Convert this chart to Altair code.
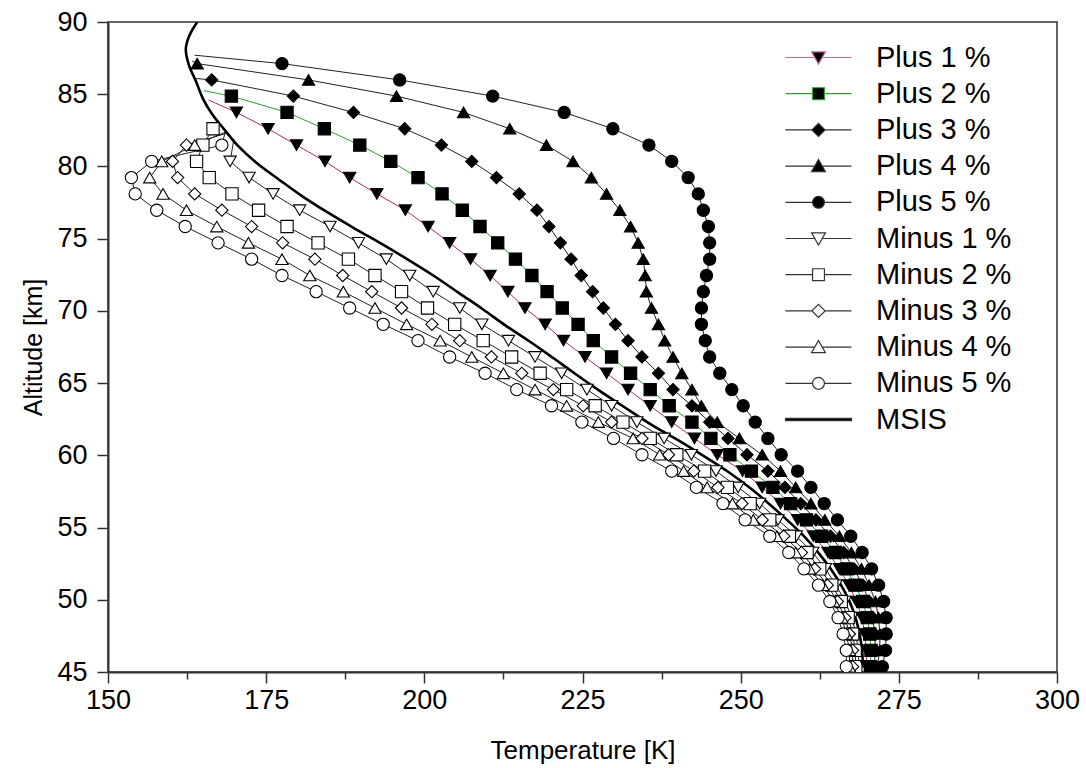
import altair as alt
import pandas as pd

# ---------------- data ----------------
SERIES = ["Plus 1 %", "Plus 2 %", "Plus 3 %", "Plus 4 %", "Plus 5 %",
          "Minus 1 %", "Minus 2 %", "Minus 3 %", "Minus 4 %", "Minus 5 %"]

# common altitude grid of the retrieval points [km]
ALT = [45.37, 46.50, 47.63, 48.76, 49.88, 51.01, 52.14, 53.27, 54.40, 55.53,
       56.66, 57.78, 58.91, 60.04, 61.17, 62.30, 63.43, 64.55, 65.68, 66.81,
       67.94, 69.07, 70.20, 71.33, 72.45, 73.58, 74.71, 75.84, 76.97, 78.10,
       79.23, 80.35, 81.48, 82.61, 83.74, 84.87, 85.99, 87.12]

# temperatures [K], from the lowest grid altitude upwards
PLUS1 = [269.9, 269.9, 269.6, 269.2, 268.3, 267.1, 265.6, 263.8, 261.5, 259.0,
         256.3, 253.4, 250.3, 246.3, 242.7, 239.1, 235.7, 232.2, 228.8, 225.4,
         222.0, 219.1, 215.9, 213.2, 210.4, 207.3, 204.0, 200.6, 197.0, 192.5,
         188.2, 184.3, 179.8, 175.3, 170.3]
PLUS2 = [270.5, 270.6, 270.4, 270.0, 269.3, 268.1, 266.7, 265.0, 262.8, 260.4,
         257.9, 255.1, 251.7, 248.3, 245.3, 242.3, 238.7, 235.7, 232.6, 229.6,
         226.7, 224.3, 221.8, 219.4, 217.0, 214.4, 211.6, 208.8, 206.0, 202.8,
         199.0, 194.7, 189.8, 184.2, 178.3, 169.5]
PLUS3 = [271.1, 271.3, 271.2, 270.9, 270.3, 269.3, 267.9, 266.3, 264.2, 261.9,
         259.5, 257.0, 254.3, 251.0, 248.0, 245.1, 242.3, 239.3, 237.0, 234.4,
         232.2, 230.2, 228.3, 226.6, 224.8, 223.2, 221.5, 219.7, 217.8, 215.0,
         211.4, 207.5, 202.7, 196.9, 188.8, 179.3, 166.4]
PLUS4 = [271.6, 272.0, 272.0, 271.8, 271.3, 270.3, 269.1, 267.5, 265.6, 263.3,
         261.1, 258.7, 256.3, 253.4, 249.8, 246.3, 243.8, 242.3, 240.7, 239.3,
         238.0, 237.0, 235.9, 235.1, 234.9, 234.6, 233.8, 232.6, 230.9, 228.8,
         226.4, 223.5, 219.3, 213.5, 206.2, 195.6, 181.7, 164.1]
PLUS5 = [272.4, 272.9, 273.0, 273.0, 272.6, 271.8, 270.7, 269.2, 267.4, 265.3,
         263.2, 261.1, 259.0, 256.4, 254.3, 252.3, 250.4, 248.6, 246.7, 245.1,
         244.4, 243.8, 243.8, 244.1, 244.6, 245.1, 245.1, 244.9, 244.1, 243.3,
         241.7, 239.1, 235.5, 229.8, 222.1, 210.8, 196.1, 177.5]
MINUS1 = [268.7, 268.6, 268.2, 267.6, 266.5, 265.1, 263.4, 261.4, 258.8, 255.9,
          253.0, 249.6, 246.1, 242.2, 237.9, 233.6, 229.6, 225.7, 221.7, 217.5,
          213.3, 209.1, 205.6, 201.4, 197.7, 194.0, 189.6, 185.1, 180.3, 176.1,
          172.3, 169.3]
MINUS2 = [268.2, 268.1, 267.7, 267.0, 265.9, 264.4, 262.5, 260.5, 257.7, 254.6,
          251.5, 247.9, 244.3, 239.9, 235.7, 231.4, 227.0, 222.5, 218.3, 213.8,
          209.3, 204.8, 200.5, 196.4, 192.2, 188.0, 183.2, 178.3, 173.8, 169.6,
          166.0, 164.0, 165.0, 166.6]
MINUS3 = [267.7, 267.7, 267.2, 266.5, 265.3, 263.7, 261.7, 259.6, 256.8, 253.4,
          250.2, 246.4, 242.6, 238.6, 234.4, 229.6, 225.1, 220.4, 215.4, 210.6,
          205.6, 201.2, 196.4, 191.7, 187.1, 182.7, 177.6, 172.7, 168.0, 163.7,
          161.0, 160.2, 162.4]
MINUS4 = [267.2, 267.2, 266.7, 266.0, 264.7, 263.0, 260.9, 258.7, 255.7, 252.0,
          248.7, 244.7, 241.0, 237.2, 233.0, 227.5, 222.5, 217.5, 212.5, 207.5,
          202.5, 197.2, 192.2, 187.2, 181.9, 177.5, 172.2, 167.2, 162.4, 158.7,
          156.6, 158.5, 163.7]
MINUS5 = [266.7, 266.7, 266.2, 265.4, 264.1, 262.3, 260.0, 257.6, 254.6, 250.7,
          247.2, 243.0, 239.1, 234.4, 229.9, 224.9, 220.1, 214.6, 209.6, 204.0,
          199.0, 193.5, 188.2, 182.9, 177.5, 172.7, 167.4, 162.2, 157.7, 154.3,
          153.7, 156.9, 168.0]

# starting point of every retrieval (line only, no marker)
START_ALT = [84.6, 85.25, 86.1, 87.3, 87.7, 81.9, 83.1, 82.3, 82.4, 82.5]
START_T = [165.9, 165.1, 163.6, 163.3, 163.7, 169.9, 167.4, 168.8, 168.7, 168.6]

# MSIS reference profile
MSIS_ALT = [45.4, 46.5, 47.6, 48.7, 49.9, 51.0, 52.1, 53.2, 54.4, 55.5, 56.6,
            57.7, 58.9, 60.0, 61.1, 62.2, 63.4, 64.5, 65.6, 66.7, 67.9, 69.0,
            70.1, 71.2, 72.4, 73.5, 74.6, 75.7, 76.9, 78.0, 79.1, 80.2, 81.4,
            82.5, 83.6, 84.7, 85.9, 87.0, 88.1, 89.0, 90.0]
MSIS_T = [269.3, 269.2, 268.8, 268.2, 267.2, 265.9, 264.3, 262.4, 260.0, 257.4,
          254.6, 251.6, 247.9, 244.0, 239.9, 235.6, 231.4, 227.6, 224.0, 220.5,
          216.6, 212.8, 209.3, 205.6, 201.6, 197.6, 193.4, 189.0, 184.4, 180.5,
          177.0, 173.6, 170.6, 168.5, 166.5, 165.0, 163.9, 162.8, 162.3, 162.8,
          164.1]

X_TICKS = [150, 162.5, 175, 187.5, 200, 212.5, 225, 237.5, 250, 262.5, 275, 287.5, 300]
Y_TICKS = [45, 47.5, 50, 52.5, 55, 57.5, 60, 62.5, 65, 67.5, 70, 72.5, 75, 77.5,
           80, 82.5, 85, 87.5, 90]

# ---------------- styles ----------------
LINE_COLORS = ["#b0286e", "#2e9e2e", "#222222", "#222222", "#222222",
               "#222222", "#222222", "#222222", "#222222", "#222222"]
SHAPES = ["triangle-down", "square", "diamond", "triangle-up", "circle",
          "triangle-down", "square", "diamond", "triangle-up", "circle"]
FILLS = ["black"] * 5 + ["white"] * 5

TRI_DOWN = "M-2,0H-0.23M0.23,0H2M-0.42,-0.34L0.42,-0.34L0,0.4Z"
SQUARE = "M-2,0H-0.36M0.36,0H2M-0.36,-0.36H0.36V0.36H-0.36Z"
DIAMOND = "M-2,0H-0.4M0.4,0H2M-0.4,0L0,-0.4L0.4,0L0,0.4Z"
TRI_UP = "M-2,0H-0.23M0.23,0H2M0,-0.4L0.42,0.34L-0.42,0.34Z"
CIRCLE = "M-2,0H-0.36M0.36,0H2M-0.36,0A0.36,0.36,0,1,0,0.36,0A0.36,0.36,0,1,0,-0.36,0Z"
THICK = "M-2,-0.07H2V0.07H-2Z"
LEG_NAMES = SERIES + ["MSIS"]
LEG_SHAPES = [TRI_DOWN, SQUARE, DIAMOND, TRI_UP, CIRCLE,
              TRI_DOWN, SQUARE, DIAMOND, TRI_UP, CIRCLE, THICK]
LEG_FILLS = FILLS + ["black"]
LEG_STROKES = ["#c86aa0", "#2e9e2e"] + ["#333333"] * 9

# ---------------- table ----------------
temps = [PLUS1, PLUS2, PLUS3, PLUS4, PLUS5, MINUS1, MINUS2, MINUS3, MINUS4, MINUS5]
rows = []
draw_order = [5, 6, 7, 8, 9, 0, 1, 2, 3, 4]   # open markers first, filled on top
for i in draw_order:
    for a, t in zip(ALT, temps[i]):
        rows.append({"series": SERIES[i], "alt": a, "T": t, "marker": True})
    rows.append({"series": SERIES[i], "alt": START_ALT[i], "T": START_T[i], "marker": False})
df = pd.DataFrame(rows)
msis = pd.DataFrame({"alt": MSIS_ALT, "T": MSIS_T, "series": "MSIS"})

FONT = "Liberation Sans"

x_enc = alt.X(
    "T:Q",
    scale=alt.Scale(domain=[150, 300], nice=False, zero=False),
    axis=alt.Axis(
        values=X_TICKS, title="Temperature [K]",
        labelExpr="datum.value % 25 == 0 ? datum.label : ''",
        labelOverlap=False, labelFlush=False,
        tickSize={"condition": {"test": "datum.value % 25 == 0", "value": 11}, "value": 7},
        labelFontSize=27, labelPadding=4, titleFontSize=26, titlePadding=24,
        titleFontWeight="normal",
    ),
)
y_enc = alt.Y(
    "alt:Q",
    scale=alt.Scale(domain=[45, 90], nice=False, zero=False),
    axis=alt.Axis(
        values=Y_TICKS, title="Altitude [km]",
        labelExpr="datum.value % 5 == 0 ? datum.label : ''",
        labelOverlap=False, labelFlush=False,
        tickSize={"condition": {"test": "datum.value % 5 == 0", "value": 11}, "value": 7},
        labelFontSize=27, labelPadding=10, titleFontSize=25, titlePadding=10,
        titleFontWeight="normal",
    ),
)

lines = alt.Chart(df).mark_line(strokeWidth=1, clip=True).encode(
    x=x_enc, y=y_enc,
    stroke=alt.Stroke("series:N", scale=alt.Scale(domain=SERIES, range=LINE_COLORS), legend=None),
    order=alt.Order("alt:Q"),
)

msis_line = alt.Chart(msis).mark_line(strokeWidth=2.6, color="black", clip=True,
                                      interpolate="catmull-rom").encode(
    x="T:Q", y="alt:Q", order=alt.Order("alt:Q"),
)

points = alt.Chart(df).transform_filter("datum.marker").mark_point(
    opacity=1, size=150, strokeWidth=1.1, stroke="black", clip=True,
).encode(
    x="T:Q", y="alt:Q",
    shape=alt.Shape("series:N", scale=alt.Scale(domain=SERIES, range=SHAPES), legend=None),
    fill=alt.Fill("series:N", scale=alt.Scale(domain=SERIES, range=FILLS), legend=None),
)

leg = alt.Legend(
    title=None, orient="none", legendX=693, legendY=18, symbolSize=1089,
    labelFont=FONT, labelFontSize=29, labelColor="black", labelOffset=40,
    rowPadding=3.2, padding=0, labelLimit=400, symbolStrokeWidth=1.2,
)
legend_layer = alt.Chart(df).transform_filter("false").mark_point(
    opacity=1, strokeWidth=1.2,
).encode(
    x="T:Q", y="alt:Q",
    shape=alt.Shape("series:N", scale=alt.Scale(domain=LEG_NAMES, range=LEG_SHAPES), legend=leg),
    fill=alt.Fill("series:N", scale=alt.Scale(domain=LEG_NAMES, range=LEG_FILLS), legend=leg),
    stroke=alt.Stroke("series:N", scale=alt.Scale(domain=LEG_NAMES, range=LEG_STROKES), legend=leg),
)

chart = alt.layer(lines, msis_line, points, legend_layer).resolve_scale(
    shape="independent", fill="independent", stroke="independent",
).properties(
    width=949, height=650,
    autosize=alt.AutoSizeParams(type="none"),
    padding={"left": 108, "top": 22, "right": 29, "bottom": 96},
    background="white",
).configure_view(
    stroke="#333333", strokeWidth=1.5,
).configure_axis(
    grid=False, domainColor="#333333", domainWidth=2, tickColor="#333333", tickWidth=1.5,
    labelFont=FONT, titleFont=FONT, labelColor="black", titleColor="black",
)

chart.save("out.html", embed_options={"renderer": "svg", "actions": False})
